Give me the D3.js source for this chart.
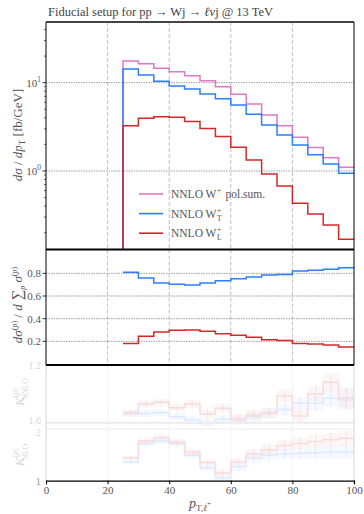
<!DOCTYPE html>
<html>
<head>
<meta charset="utf-8">
<script src="https://cdn.jsdelivr.net/npm/d3@7"></script>
<style>
  body { margin: 0; background: #fff; }
  text { font-family: "Liberation Serif", "DejaVu Serif", serif; }
</style>
</head>
<body>
<svg id="chart" width="364" height="514"></svg>
<script>
// bin edges in pT (GeV)
const edges = [25, 30, 35, 40, 45, 50, 55, 60, 65, 70, 75, 80, 85, 90, 95, 100];

// dsigma/dpT [fb/GeV]
const sigmaSum = [17.6, 16.4, 14.6, 13.3, 12.0, 10.5, 9.0, 7.4, 5.74, 4.31, 3.24, 2.41, 1.84, 1.41, 1.10];
const sigmaT   = [14.3, 12.2, 10.4, 9.18, 8.49, 7.45, 6.59, 5.58, 4.38, 3.32, 2.56, 1.97, 1.53, 1.20, 0.94];
const sigmaL   = [3.24, 3.95, 4.12, 4.06, 3.62, 3.03, 2.45, 1.85, 1.33, 0.925, 0.676, 0.430, 0.326, 0.245, 0.169];

// polarisation fractions
const fracT = [0.81, 0.76, 0.715, 0.703, 0.697, 0.715, 0.735, 0.753, 0.768, 0.785, 0.79, 0.82, 0.827, 0.836, 0.85];
const fracL = [0.182, 0.244, 0.282, 0.297, 0.30, 0.289, 0.268, 0.253, 0.235, 0.215, 0.207, 0.182, 0.176, 0.168, 0.15];

// K-factors (faded panels)
const kNNLO_T = [1.03, 1.032, 1.035, 1.021, 1.009, 1.0, 1.012, 1.009, 1.021, 1.035, 1.046, 1.067, 1.067, 1.085, 1.079];
const kNNLO_L = [1.035, 1.065, 1.071, 1.052, 1.065, 1.03, 1.05, 1.013, 1.027, 1.032, 1.093, 1.023, 1.10, 1.14, 1.085];
const kNNLO_err = [0.01, 0.012, 0.012, 0.012, 0.013, 0.014, 0.015, 0.016, 0.017, 0.018, 0.02, 0.022, 0.025, 0.03, 0.035];
const kNLO_T = [1.36, 1.72, 1.77, 1.72, 1.49, 1.25, 1.05, 1.27, 1.44, 1.49, 1.52, 1.53, 1.54, 1.55, 1.56];
const kNLO_L = [1.44, 1.77, 1.83, 1.75, 1.55, 1.35, 1.15, 1.36, 1.52, 1.60, 1.68, 1.72, 1.76, 1.79, 1.82];
const kNLO_err = [0.04, 0.06, 0.06, 0.06, 0.06, 0.06, 0.07, 0.08, 0.09, 0.1, 0.1, 0.11, 0.12, 0.13, 0.14];

const xTicks = [0, 20, 40, 60, 80, 100];
const gridX = [20, 40, 60, 80];
const fracTicks = [0.2, 0.4, 0.6, 0.8];
const logMajor = [1, 10];
const logMinor = [0.2, 0.3, 0.4, 0.5, 0.6, 0.7, 0.8, 0.9, 2, 3, 4, 5, 6, 7, 8, 9, 20, 30, 40];

const colSum = '#e377c2', colT = '#2a7fff', colL = '#d62728';
const labelCol = '#555';

const svg = d3.select('#chart');
const left = 46, right = 354;

const x = d3.scaleLinear().domain([0, 100]).range([left, right]);
const yTop = d3.scaleLog().domain([0.129, 48.6]).range([249.5, 22]);
const yMid = d3.scaleLinear().domain([0, 1]).range([364, 250.7]);
const yNNLO = d3.scaleLinear().domain([1.0, 1.2]).range([422.7, 365]);
const yNLO = d3.scaleLinear().domain([1, 2]).range([480.7, 429]);

function stepPath(yScale, vals, fromBottom) {
  const pts = [];
  if (fromBottom) pts.push([x(edges[0]), yScale.range()[0]]);
  vals.forEach((v, i) => {
    pts.push([x(edges[i]), yScale(v)]);
    pts.push([x(edges[i + 1]), yScale(v)]);
  });
  return d3.line()(pts);
}

function clip(id, y0, y1) {
  svg.append('clipPath').attr('id', id)
    .append('rect').attr('x', left).attr('y', y0).attr('width', right - left).attr('height', y1 - y0);
}
clip('cTop', 22, 249.5);
clip('cMid', 249.5, 365);
clip('cBot', 365, 481);

// ---------- top panel ----------
const gTop = svg.append('g');
gTop.selectAll('line.vg').data(gridX).enter().append('line')
  .attr('x1', d => x(d)).attr('x2', d => x(d)).attr('y1', 22).attr('y2', 249.5)
  .attr('stroke', '#b0b0b0').attr('stroke-width', 0.8).attr('stroke-dasharray', '4,2');
gTop.selectAll('line.hg').data(logMajor).enter().append('line')
  .attr('x1', left).attr('x2', right).attr('y1', d => yTop(d)).attr('y2', d => yTop(d))
  .attr('stroke', '#888').attr('stroke-width', 0.8).attr('stroke-dasharray', '1.5,1');

const topLines = gTop.append('g').attr('clip-path', 'url(#cTop)');
[[sigmaSum, colSum], [sigmaT, colT], [sigmaL, colL]].forEach(([vals, c]) => {
  topLines.append('path').attr('d', stepPath(yTop, vals, true))
    .attr('fill', 'none').attr('stroke', c).attr('stroke-width', 1.5);
});

// log ticks
gTop.selectAll('line.mj').data(logMajor).enter().append('line')
  .attr('x1', left - 3.5).attr('x2', left).attr('y1', d => yTop(d)).attr('y2', d => yTop(d))
  .attr('stroke', '#000').attr('stroke-width', 0.8);
gTop.selectAll('line.mn').data(logMinor).enter().append('line')
  .attr('x1', left - 2).attr('x2', left).attr('y1', d => yTop(d)).attr('y2', d => yTop(d))
  .attr('stroke', '#000').attr('stroke-width', 0.6);
logMajor.forEach(d => {
  const t = gTop.append('text').attr('x', left - 5).attr('y', yTop(d) + 4)
    .attr('text-anchor', 'end').attr('font-size', 11).attr('fill', labelCol);
  t.append('tspan').text('10');
  t.append('tspan').attr('font-size', 7.5).attr('dy', -5).text(d === 1 ? '0' : '1');
});

// legend
const legend = [['NNLO W', '+', 'pol.sum.', colSum], ['NNLO W', '+', 'T', colT], ['NNLO W', '+', 'L', colL]];
legend.forEach(([base, sup, tail, c], i) => {
  const ly = 194 + i * 19.6;
  svg.append('line').attr('x1', 139).attr('x2', 163).attr('y1', ly).attr('y2', ly)
    .attr('stroke', c).attr('stroke-width', 1.6);
  const t = svg.append('text').attr('x', 171).attr('y', ly + 4).attr('font-size', 11.5).attr('fill', labelCol).text(base);
  const w = t.node().getComputedTextLength();
  svg.append('text').attr('x', 171 + w + 0.5).attr('y', ly - 1).attr('font-size', 7.5).attr('fill', labelCol).text(sup);
  if (i === 0) {
    svg.append('text').attr('x', 171 + w + 9).attr('y', ly + 4).attr('font-size', 11.5).attr('fill', labelCol).text(tail);
  } else {
    svg.append('text').attr('x', 171 + w + 0.5).attr('y', ly + 7).attr('font-size', 7.5).attr('fill', labelCol).text(tail);
  }
});

// ---------- middle panel ----------
const gMid = svg.append('g');
gMid.selectAll('line.vg').data(gridX).enter().append('line')
  .attr('x1', d => x(d)).attr('x2', d => x(d)).attr('y1', 249.5).attr('y2', 365)
  .attr('stroke', '#b0b0b0').attr('stroke-width', 0.8).attr('stroke-dasharray', '4,2');
gMid.selectAll('line.hg').data(fracTicks).enter().append('line')
  .attr('x1', left).attr('x2', right).attr('y1', d => yMid(d)).attr('y2', d => yMid(d))
  .attr('stroke', '#888').attr('stroke-width', 0.8).attr('stroke-dasharray', '1.5,1');
const midLines = gMid.append('g').attr('clip-path', 'url(#cMid)');
[[fracT, colT], [fracL, colL]].forEach(([vals, c]) => {
  midLines.append('path').attr('d', stepPath(yMid, vals, false))
    .attr('fill', 'none').attr('stroke', c).attr('stroke-width', 1.5);
});
gMid.selectAll('line.tk').data(fracTicks).enter().append('line')
  .attr('x1', left - 3.5).attr('x2', left).attr('y1', d => yMid(d)).attr('y2', d => yMid(d))
  .attr('stroke', '#000').attr('stroke-width', 0.8);
gMid.selectAll('text.tl').data(fracTicks).enter().append('text')
  .attr('x', left - 5).attr('y', d => yMid(d) + 4).attr('text-anchor', 'end')
  .attr('font-size', 11).attr('fill', labelCol).text(d => d.toFixed(1));

// ---------- bottom (faded) panels ----------
const gBot = svg.append('g').attr('opacity', 0.16);
gBot.selectAll('line.vg').data(gridX).enter().append('line')
  .attr('x1', d => x(d)).attr('x2', d => x(d)).attr('y1', 365).attr('y2', 480.7)
  .attr('stroke', '#aaa').attr('stroke-width', 0.8);
const botLines = gBot.append('g').attr('clip-path', 'url(#cBot)');
function band(yScale, vals, errs, c) {
  botLines.selectAll(null).data(vals).enter().append('rect')
    .attr('x', (d, i) => x(edges[i])).attr('width', (d, i) => x(edges[i + 1]) - x(edges[i]))
    .attr('y', (d, i) => yScale(d + errs[i])).attr('height', (d, i) => yScale(d - errs[i]) - yScale(d + errs[i]))
    .attr('fill', c).attr('opacity', 0.25);
  botLines.selectAll(null).data(vals).enter().append('line')
    .attr('x1', (d, i) => x((edges[i] + edges[i + 1]) / 2)).attr('x2', (d, i) => x((edges[i] + edges[i + 1]) / 2))
    .attr('y1', (d, i) => yScale(d + errs[i])).attr('y2', (d, i) => yScale(d - errs[i]))
    .attr('stroke', c).attr('stroke-width', 0.8);
  botLines.append('path').attr('d', stepPath(yScale, vals, false))
    .attr('fill', 'none').attr('stroke', c).attr('stroke-width', 1.5);
}
band(yNNLO, kNNLO_T, kNNLO_err, colT);
band(yNNLO, kNNLO_L, kNNLO_err, colL);
band(yNLO, kNLO_T, kNLO_err, colT);
band(yNLO, kNLO_L, kNLO_err, colL);
gBot.append('line').attr('x1', left).attr('x2', right).attr('y1', 422.7).attr('y2', 422.7)
  .attr('stroke', '#888').attr('stroke-width', 2);
gBot.append('line').attr('x1', left).attr('x2', right).attr('y1', 429).attr('y2', 429)
  .attr('stroke', '#888').attr('stroke-width', 1);
gBot.append('line').attr('x1', left).attr('x2', left).attr('y1', 365).attr('y2', 480.7).attr('stroke', '#000');
gBot.append('line').attr('x1', right).attr('x2', right).attr('y1', 365).attr('y2', 480.7).attr('stroke', '#000');
[[yNNLO(1.2) + 4, '1.2'], [yNNLO(1.0) + 1.5, '1.0'], [yNLO(2) + 6.5, '2']].forEach(([ty, lab]) => {
  gBot.append('text').attr('x', left - 5).attr('y', ty).attr('text-anchor', 'end')
    .attr('font-size', 10).attr('fill', '#000').text(lab);
});
function kLabel(cy, sub) {
  const t = gBot.append('text').attr('transform', `translate(24,${cy}) rotate(-90)`)
    .attr('text-anchor', 'middle').attr('font-size', 13).attr('fill', '#000');
  t.append('tspan').attr('font-style', 'italic').text('K');
  t.append('tspan').attr('font-size', 8).attr('dy', -6).text('(');
  t.append('tspan').attr('font-size', 8).attr('font-style', 'italic').text('p');
  t.append('tspan').attr('font-size', 8).text(')');
  t.append('tspan').attr('font-size', 8).attr('dx', -12).attr('dy', 10).text(sub);
}
kLabel(392, 'NNLO');
kLabel(455, 'NLO');
svg.append('text').attr('x', left - 5).attr('y', yNLO(1) + 4).attr('text-anchor', 'end')
  .attr('font-size', 11).attr('fill', '#999').text('1');

// ---------- spines ----------
svg.append('line').attr('x1', left).attr('x2', right).attr('y1', 22).attr('y2', 22).attr('stroke', '#444').attr('stroke-width', 1.8);
svg.append('line').attr('x1', left).attr('x2', left).attr('y1', 22).attr('y2', 365).attr('stroke', '#000').attr('stroke-width', 1);
svg.append('line').attr('x1', right).attr('x2', right).attr('y1', 22).attr('y2', 365).attr('stroke', '#000').attr('stroke-width', 1);
svg.append('line').attr('x1', left).attr('x2', right).attr('y1', 249.5).attr('y2', 249.5).attr('stroke', '#000').attr('stroke-width', 2);
svg.append('line').attr('x1', left).attr('x2', right).attr('y1', 365).attr('y2', 365).attr('stroke', '#000').attr('stroke-width', 2);

// x axis
const xAxis = svg.append('g').attr('transform', 'translate(0,480.7)')
  .call(d3.axisBottom(x).tickValues(xTicks).tickSize(3.5).tickPadding(2).tickFormat(d3.format('d')));
xAxis.select('.domain').attr('stroke', '#000').attr('stroke-width', 1.2);
xAxis.selectAll('text').attr('font-size', 11).attr('fill', labelCol).attr('font-family', '"Liberation Serif", serif');

const xl = svg.append('text').attr('x', 200).attr('y', 508).attr('text-anchor', 'middle')
  .attr('font-size', 14).attr('fill', labelCol);
xl.append('tspan').attr('font-style', 'italic').text('p');
xl.append('tspan').attr('font-size', 9).attr('dy', 3).text('T,');
xl.append('tspan').attr('font-size', 9).attr('font-style', 'italic').text('ℓ');
xl.append('tspan').attr('font-size', 7).attr('dy', -5).text('+');

// y labels
const yl1 = svg.append('text').attr('transform', 'translate(22,135) rotate(-90)')
  .attr('text-anchor', 'middle').attr('font-size', 13).attr('fill', labelCol);
yl1.append('tspan').attr('font-style', 'italic').text('dσ');
yl1.append('tspan').text(' / ');
yl1.append('tspan').attr('font-style', 'italic').text('dp');
yl1.append('tspan').attr('font-size', 9).attr('dy', 3).text('T');
yl1.append('tspan').attr('dy', -3).text(' [fb/GeV]');

const yl2 = svg.append('text').attr('transform', 'translate(22,305) rotate(-90)')
  .attr('text-anchor', 'middle').attr('font-size', 13).attr('fill', labelCol);
yl2.append('tspan').attr('font-style', 'italic').text('dσ');
yl2.append('tspan').attr('font-size', 8).attr('dy', -5).text('(');
yl2.append('tspan').attr('font-size', 8).attr('font-style', 'italic').text('p');
yl2.append('tspan').attr('font-size', 8).text(')');
yl2.append('tspan').attr('dy', 5).text(' / ');
yl2.append('tspan').attr('font-style', 'italic').text('d');
yl2.append('tspan').attr('font-size', 15).text(' ∑');
yl2.append('tspan').attr('font-size', 8).attr('font-style', 'italic').attr('dy', 3).text('p');
yl2.append('tspan').attr('font-style', 'italic').attr('dy', -3).text(' σ');
yl2.append('tspan').attr('font-size', 8).attr('dy', -5).text('(');
yl2.append('tspan').attr('font-size', 8).attr('font-style', 'italic').text('p');
yl2.append('tspan').attr('font-size', 8).text(')');

// title
const tt = svg.append('text').attr('x', 48).attr('y', 16).attr('font-size', 12.5).attr('fill', '#444');
tt.append('tspan').text('Fiducial setup for pp → Wj → ');
tt.append('tspan').attr('font-style', 'italic').text('ℓν');
tt.append('tspan').text('j @ 13 TeV');
</script>
</body>
</html>
